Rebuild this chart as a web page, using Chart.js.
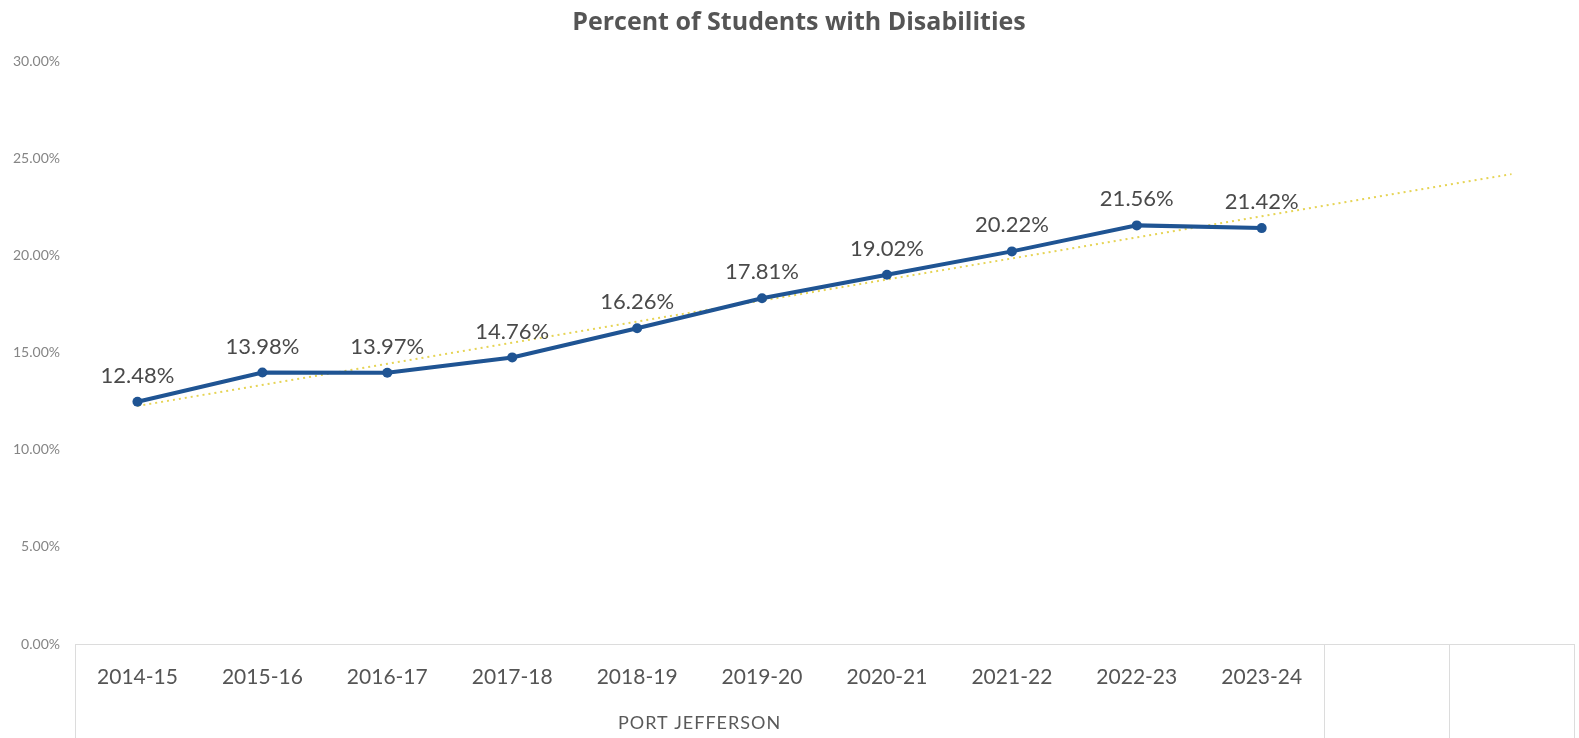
<!DOCTYPE html>
<html>
<head>
<meta charset="utf-8">
<script src="https://cdn.jsdelivr.net/npm/chart.js@4.4.1/dist/chart.umd.min.js"></script>
<style>
  html, body { margin: 0; padding: 0; background: #fff; overflow: hidden; }
  #disChart { display: block; }
</style>
</head>
<body>
<canvas id="disChart" width="1579" height="738"></canvas>
<script>
// school years, plus two empty slots the trend line runs into
const years = ["2014-15", "2015-16", "2016-17", "2017-18", "2018-19", "2019-20",
               "2020-21", "2021-22", "2022-23", "2023-24", "", ""];
const percentSWD = [12.48, 13.98, 13.97, 14.76, 16.26, 17.81, 19.02, 20.22, 21.56, 21.42];
// linear trend: start and end values only
const trendStart = 12.26;
const trendEnd = 24.2;
const chartTitle = "Percent of Students with Disabilities";
const groupName = "PORT JEFFERSON";
const groupSize = 10; // years under the group label

const trendData = years.map((y, i) => (i === 0 ? trendStart : i === years.length - 1 ? trendEnd : null));

const FONT = "Lato, 'Open Sans', sans-serif";

// title sits a bit left of the plot centre, so it is drawn by hand
const titleText = {
  id: "titleText",
  afterDraw(chart) {
    const ctx = chart.ctx;
    ctx.save();
    ctx.font = "bold 25px 'Open Sans', Lato, sans-serif";
    ctx.fillStyle = "#555555";
    ctx.textAlign = "center";
    ctx.textBaseline = "middle";
    ctx.fillText(chartTitle, 799, 23);
    ctx.restore();
  }
};

// value labels above each point
const valueLabels = {
  id: "valueLabels",
  afterDatasetsDraw(chart) {
    const ctx = chart.ctx;
    const meta = chart.getDatasetMeta(0);
    ctx.save();
    ctx.font = "22px " + FONT;
    ctx.fillStyle = "#4a4a4a";
    ctx.textAlign = "center";
    ctx.textBaseline = "middle";
    meta.data.forEach((pt, i) => {
      ctx.fillText(percentSWD[i].toFixed(2) + "%", pt.x, pt.y - 26);
    });
    ctx.restore();
  }
};

// multi-level axis look: group separators and group name under the years
const groupAxis = {
  id: "groupAxis",
  afterDraw(chart) {
    const ctx = chart.ctx;
    const x = chart.scales.x;
    const area = chart.chartArea;
    const bottom = chart.height;
    const edges = [area.left];
    [groupSize, groupSize + 1].forEach(i => {
      edges.push((x.getPixelForValue(i - 1) + x.getPixelForValue(i)) / 2);
    });
    edges.push(area.right);
    ctx.save();
    ctx.strokeStyle = "#dcdcdc";
    ctx.lineWidth = 1;
    edges.forEach(px => {
      const p = Math.round(px) + 0.5;
      ctx.beginPath();
      ctx.moveTo(p, area.bottom);
      ctx.lineTo(p, bottom);
      ctx.stroke();
    });
    ctx.font = "18px " + FONT;
    ctx.letterSpacing = "1px";
    ctx.fillStyle = "#5a5a5a";
    ctx.textAlign = "center";
    ctx.textBaseline = "middle";
    const cx = (x.getPixelForValue(0) + x.getPixelForValue(groupSize - 1)) / 2;
    ctx.fillText(groupName, cx, 723);
    ctx.restore();
  }
};

const ctx = document.getElementById("disChart").getContext("2d");
const disChart = new Chart(ctx, {
  type: "line",
  data: {
    labels: years,
    datasets: [
      {
        label: "Percent SWD",
        data: percentSWD,
        borderColor: "#1f5493",
        backgroundColor: "#1f5493",
        borderWidth: 4,
        pointRadius: 5,
        pointBorderWidth: 0,
        tension: 0
      },
      {
        label: "Trend",
        data: trendData,
        spanGaps: true,
        borderColor: "#e6d456",
        borderWidth: 2,
        borderDash: [2, 4],
        pointRadius: 0,
        tension: 0
      }
    ]
  },
  options: {
    responsive: false,
    animation: false,
    devicePixelRatio: 1,
    layout: { padding: { left: 0, right: 4, top: 61.5, bottom: 0 } },
    plugins: {
      legend: { display: false },
      tooltip: { enabled: false },
      title: { display: false }
    },
    scales: {
      x: {
        offset: true,
        grid: { display: false, drawTicks: false },
        border: { display: true, color: "#dcdcdc", width: 1 },
        ticks: {
          color: "#555555",
          font: { family: FONT, size: 21 },
          padding: 21,
          maxRotation: 0,
          autoSkip: false
        },
        afterFit(scale) { scale.height = 94; }
      },
      y: {
        min: 0,
        max: 30,
        grid: { display: false, drawTicks: false },
        border: { display: false },
        ticks: {
          stepSize: 5,
          color: "#858585",
          font: { family: FONT, size: 14 },
          padding: 15,
          callback: v => v.toFixed(2) + "%"
        },
        afterFit(scale) { scale.width = 75; }
      }
    }
  },
  plugins: [valueLabels, groupAxis, titleText]
});
</script>
</body>
</html>
